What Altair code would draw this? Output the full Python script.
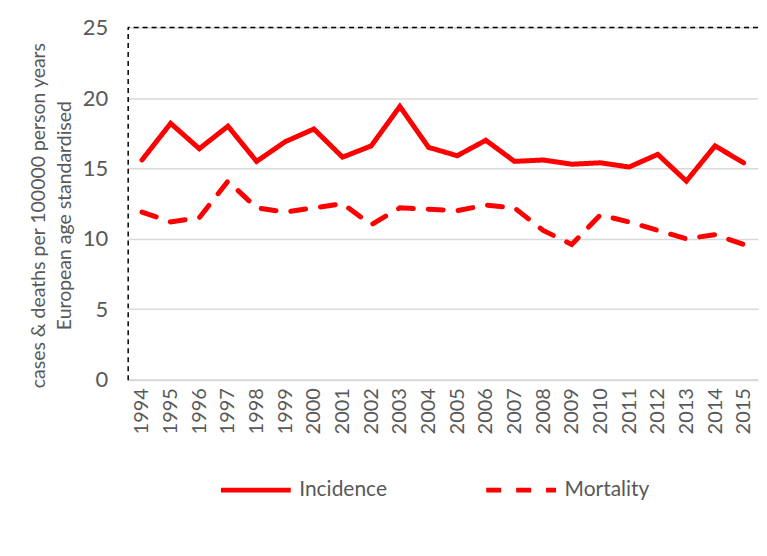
import altair as alt
import pandas as pd

years = [str(y) for y in range(1994, 2016)]
incidence = [15.6, 18.2, 16.4, 18.0, 15.5, 16.9, 17.8, 15.8, 16.6, 19.4, 16.5,
             15.9, 17.0, 15.5, 15.6, 15.3, 15.4, 15.1, 16.0, 14.1, 16.6, 15.4]
mortality = [11.9, 11.2, 11.5, 14.1, 12.2, 11.9, 12.2, 12.5, 11.0, 12.2, 12.1,
             12.0, 12.4, 12.2, 10.6, 9.6, 11.7, 11.2, 10.6, 10.0, 10.3, 9.6]
series = ["Incidence", "Mortality"]

rows = []
for i, y in enumerate(years):
    rows.append({"year": y, "value": incidence[i], "series": series[0]})
    rows.append({"year": y, "value": mortality[i], "series": series[1]})
df = pd.DataFrame(rows)

GRAY = "#595959"
FONT = "Lato"

lines = alt.Chart(df).mark_line(color="#FF0000", strokeWidth=5, strokeCap="round").encode(
    x=alt.X("year:N", sort=years, scale=alt.Scale(paddingOuter=0.5),
            axis=alt.Axis(title=None, labelAngle=-90, labelFontSize=20, labelColor=GRAY,
                          labelFont=FONT, ticks=False, domainColor="#d9d9d9", domainWidth=2,
                          labelPadding=8, grid=False)),
    y=alt.Y("value:Q", scale=alt.Scale(domain=[0, 25], nice=False),
            axis=alt.Axis(values=[0, 5, 10, 15, 20, 25], labelFontSize=22, labelColor=GRAY,
                          labelFont=FONT, ticks=False, domainColor="black", domainDash=[5, 4],
                          domainWidth=1.5, labelPadding=20, gridColor="#d9d9d9", gridWidth=1.5,
                          title=["cases & deaths per 100000 person years", "European age standardised"],
                          titleFontSize=19.5, titleLineHeight=26, titleFont=FONT, titleColor=GRAY,
                          titleFontWeight="normal", titlePadding=8, titleY=188)),
    strokeDash=alt.StrokeDash("series:N", scale=alt.Scale(domain=series, range=[[1, 0], [15, 15]]),
                              legend=alt.Legend(title=None, orient="none", direction="horizontal",
                                                legendX=91, legendY=426, symbolType="stroke",
                                                symbolSize=4900, symbolStrokeWidth=5,
                                                symbolStrokeColor="#FF0000", labelFontSize=21,
                                                labelFont=FONT, labelColor=GRAY, columnPadding=88,
                                                labelOffset=6)),
)

top = alt.Chart(pd.DataFrame({"v": [25]})).mark_rule(color="black", strokeDash=[5, 4], strokeWidth=1.5).encode(
    y="v:Q"
)

chart = alt.layer(top, lines).properties(
    width=632, height=353, padding={"top": 8, "left": 20, "right": 0, "bottom": 5}
).configure_view(stroke=None)

chart.save("out.html", embed_options={"renderer": "svg", "actions": False})
